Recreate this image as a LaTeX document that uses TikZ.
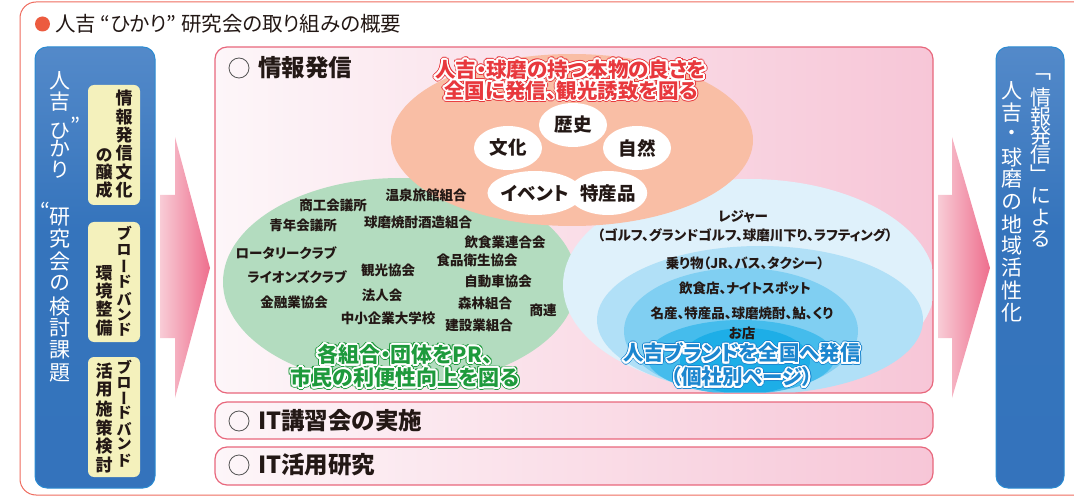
\documentclass[tikz,border=0pt]{standalone}
\usepackage{fontspec}
\usepackage{graphicx}
\setmainfont{Noto Sans CJK JP}
\newfontfamily\vjp[RawFeature=+vert]{Noto Sans CJK JP}
\newfontfamily\jpp[RawFeature=+palt]{Noto Sans CJK JP}
\usetikzlibrary{shapes.geometric}

\definecolor{frameRed}{HTML}{EE6B5E}
\definecolor{bulletRed}{HTML}{EC5B3F}
\definecolor{txt}{HTML}{231815}
\definecolor{blueL}{HTML}{BCD3EC}
\definecolor{blueM}{HTML}{5E91CE}
\definecolor{blueD}{HTML}{3272BB}
\definecolor{blueB}{HTML}{2B8BD2}
\definecolor{yel}{HTML}{F4F1BC}
\definecolor{pinkL}{HTML}{FDF6F9}
\definecolor{pinkR}{HTML}{F7C6D7}
\definecolor{pinkB}{HTML}{E8677C}
\definecolor{arrL}{HTML}{F8CCD6}
\definecolor{arrR}{HTML}{EE6E8D}
\definecolor{orng}{HTML}{F9BEA5}
\definecolor{grn}{HTML}{B3DCBF}
\definecolor{bl1}{HTML}{DFF1FB}
\definecolor{bl2}{HTML}{B1E0F7}
\definecolor{bl3}{HTML}{80CFF2}
\definecolor{bl4}{HTML}{45BCEC}
\definecolor{bl5}{HTML}{1DAEE7}
\definecolor{redT}{HTML}{E8383D}
\definecolor{grnT}{HTML}{1E9A3C}
\definecolor{bluT}{HTML}{1C86CF}
\definecolor{circG}{HTML}{555555}

\pgfdeclareverticalshading{bluesh}{100bp}{color(0bp)=(blueD); color(55bp)=(blueD!92!blueM); color(82bp)=(blueM); color(100bp)=(blueL)}

% outlined (fuchidori) text: #1 name, #2 position, #3 font, #4 colour, #5 text
\newcommand{\fuchi}[5]{%
  \foreach \ang in {0,20,...,340}{\node[font=#3, text=#4, align=center, inner sep=0, shift={(\ang:2.6pt)}] at (#2) {#5};}
  \foreach \ang in {0,20,...,340}{\node[font=#3, text=white, align=center, inner sep=0, shift={(\ang:1.7pt)}] at (#2) {#5};
    \node[font=#3, text=white, align=center, inner sep=0, shift={(\ang:0.9pt)}] at (#2) {#5};}
  \node[font=#3, text=#4, align=center, inner sep=0] (#1) at (#2) {#5};
}

\tikzset{
  org/.style={font=\jpp\fontsize{13.5}{14}\selectfont\bfseries, text=txt, inner sep=0},
  vmain/.style={font=\vjp\fontsize{21}{21}\selectfont, text=white, inner sep=0},
  vyel/.style={font=\vjp\fontsize{17}{17}\selectfont\bfseries, text=txt, inner sep=0},
  vyels/.style={font=\vjp\fontsize{15.5}{15.5}\selectfont\bfseries, text=txt, inner sep=0},
  wov/.style={ellipse, fill=white, minimum width=68pt, minimum height=44pt, inner sep=0,
    font=\jpp\fontsize{18.5}{18.5}\selectfont\bfseries, text=txt},
  bigh/.style={font=\fontsize{23.5}{23.5}\selectfont\bfseries, text=txt, inner sep=0, anchor=west},
  ring/.style={circle, draw=circG, line width=0.8pt, minimum size=20pt, inner sep=0},
  panelbox/.style={draw=pinkB, line width=1.2pt, rounded corners=12pt, left color=pinkL, right color=pinkR},
  bluebox/.style={draw=blueB, line width=1pt, rounded corners=12pt, shading=bluesh},
  bigarrow/.style={left color=arrL, right color=arrR}
}

\begin{document}
\begin{tikzpicture}[x=1pt,y=-1pt]
\useasboundingbox (0,0) rectangle (1074,497);

% outer frame and title
\draw[frameRed, line width=1pt, rounded corners=16pt] (20,2) rectangle (1100,495);
\fill[bulletRed] (42.5,24) circle (7.5pt);
\node[anchor=west, font=\jpp\fontsize{20.5}{21}\selectfont, text=txt, inner sep=0] (title) at (55,24)
  {人吉 “ひかり” 研究会の取り組みの概要};

% left blue box
\path[bluebox] (35,47) rectangle (155,488);
\foreach \c/\yy in {人/81,吉/102,ひ/131,か/149,り/170,研/217,究/239,会/262,の/283,検/307,討/328,課/350,題/373}
  \node[vmain] at (60,\yy) {\c};
\node[font=\fontsize{21}{21}\selectfont, text=white, inner sep=0] (q1) at (75,125) {”};
\node[font=\fontsize{21}{21}\selectfont, text=white, inner sep=0] (q2) at (45,210) {“};

\path[fill=yel, rounded corners=6pt] (88,85) rectangle (140,205);
\path[fill=yel, rounded corners=6pt] (88,222) rectangle (140,342);
\path[fill=yel, rounded corners=6pt] (88,357) rectangle (140,477);
\foreach \c/\yy in {情/98.5,報/117,発/135,信/153,文/172,化/190} \node[vyel] at (124,\yy) {\c};
\foreach \c/\yy in {の/155,醸/172,成/190} \node[vyel] at (104,\yy) {\c};
\foreach \c/\yy in {ブ/233,ロ/250,ー/266,ド/282,バ/299,ン/315,ド/330} \node[vyels] at (124,\yy) {\c};
\foreach \c/\yy in {環/273,境/291,整/309,備/328} \node[vyel] at (104,\yy) {\c};
\foreach \c/\yy in {ブ/367,ロ/383,ー/398,ド/413,バ/429,ン/444,ド/461} \node[vyels] at (124,\yy) {\c};
\foreach \c/\yy in {活/371,用/390,施/409,策/428,検/446,討/465} \node[vyel] at (104,\yy) {\c};

% left arrow
\path[bigarrow] (160,195) -- (175,195) -- (175,137) -- (210,268) -- (175,398) -- (175,338) -- (160,338) -- cycle;

% main panel
\path[panelbox] (215,47) rectangle (933,393);
\begin{scope}
  \clip[rounded corners=12pt] (215.6,47.6) rectangle (932.4,392.4);
  \fill[grn] (400,282) ellipse [x radius=177, y radius=104];
  \fill[bl1] (749,285) ellipse [x radius=186, y radius=106];
  \fill[bl2] (760,320) ellipse [x radius=163, y radius=74];
  \fill[bl3] (741,331) ellipse [x radius=117, y radius=63];
  \fill[bl4] (741,357) ellipse [x radius=94, y radius=37];
  \fill[bl5] (745,361) ellipse [x radius=65, y radius=33];
  \fill[orng] (572,140) ellipse [x radius=181, y radius=86];
\end{scope}

\node[ring] (c1) at (239,68) {};
\node[bigh] (h1) at (258,68) {情報発信};

\fuchi{redh}{571,80}{\jpp\fontsize{20.5}{20.5}\selectfont\bfseries}{redT}{人吉・球磨の持つ本物の良さを\\全国に発信、観光誘致を図る}

\node[wov] (rekishi) at (573,125) {歴史};
\node[wov] (bunka) at (508,148) {文化};
\node[wov] (shizen) at (637,148) {自然};
\node[wov] (event) at (535,193) {イベント};
\node[wov] (tokusan) at (608,193) {特産品};

% green organisations
\node[org] (o1) at (333,205) {商工会議所};
\node[org] (o2) at (426,195) {温泉旅館組合};
\node[org] (o3) at (303,225) {青年会議所};
\node[org] (o4) at (418,222) {球磨焼酎酒造組合};
\node[org] (o5) at (505,242) {飲食業連合会};
\node[org] (o6) at (286,253) {ロータリークラブ};
\node[org] (o7) at (477,260) {食品衛生協会};
\node[org] (o8) at (388,270) {観光協会};
\node[org] (o9) at (297,277) {ライオンズクラブ};
\node[org] (o10) at (498,281) {自動車協会};
\node[org] (o11) at (382,295) {法人会};
\node[org] (o12) at (294,302) {金融業協会};
\node[org] (o13) at (485,303) {森林組合};
\node[org] (o14) at (543,310) {商連};
\node[org] (o15) at (388,318) {中小企業大学校};
\node[org] (o16) at (479,325) {建設業組合};
\fuchi{grnh}{405,366}{\jpp\fontsize{21}{23}\selectfont\bfseries}{grnT}{各組合・団体をPR、\\市民の利便性向上を図る}

% blue area texts
\node[org] (b1) at (743,217) {レジャー};
\node[org] (b2) at (745,235) {（ゴルフ、グランドゴルフ、球磨川下り、ラフティング）};
\node[org] (b3) at (745,263) {乗り物（JR、バス、タクシー）};
\node[org] (b4) at (745,288) {飲食店、ナイトスポット};
\node[org] (b5) at (742,313) {名産、特産品、球磨焼酎、鮎、くり};
\node[org] (b6) at (742,333) {お店};
\fuchi{bluh}{742,365}{\jpp\fontsize{20.5}{24}\selectfont\bfseries}{bluT}{人吉ブランドを全国へ発信\\（個社別ページ）}

% bars
\path[panelbox] (215,402) rectangle (933,439);
\node[ring] (c2) at (239,421) {};
\node[bigh] (h2) at (258,421) {IT講習会の実施};
\path[panelbox] (215,447) rectangle (933,485);
\node[ring] (c3) at (239,465) {};
\node[bigh] (h3) at (258,465) {IT活用研究};

% right arrow
\path[bigarrow] (938,195) -- (952,195) -- (952,137) -- (990,268) -- (952,398) -- (952,338) -- (938,338) -- cycle;

% right blue box
\path[bluebox] (996,47) rectangle (1064,488);
\foreach \c/\yy in {﹁/77,情/98,報/117,発/136,信/155,﹂/174,に/196,よ/218,る/239}
  \node[vmain] at (1041,\yy) {\c};
\foreach \c/\yy in {人/91,吉/113,・/135,球/157,磨/179,の/202,地/224,域/246,活/268,性/291,化/313}
  \node[vmain] at (1012,\yy) {\c};
\end{tikzpicture}
\end{document}
